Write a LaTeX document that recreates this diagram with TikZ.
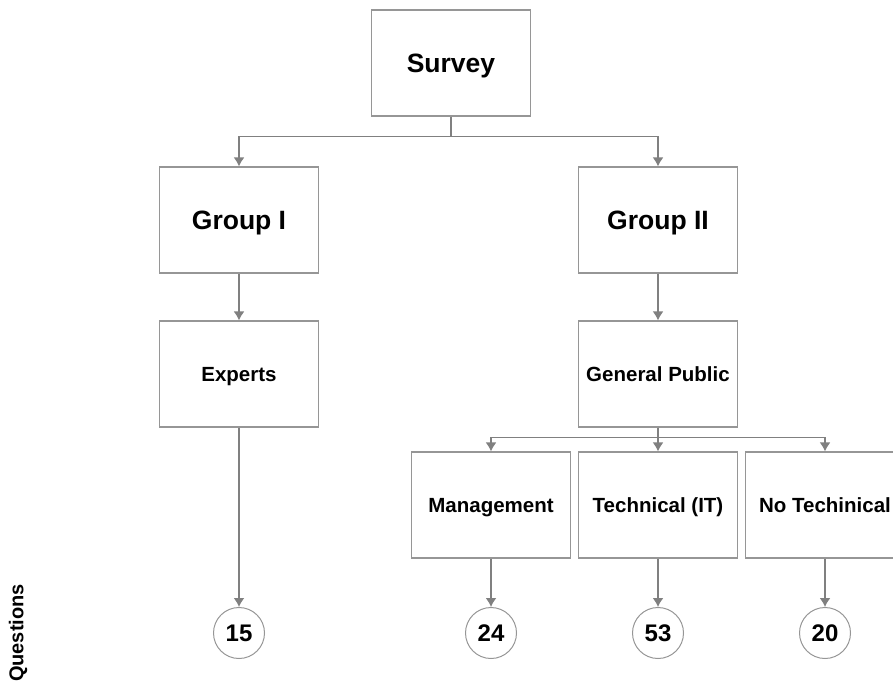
\documentclass[tikz,border=0pt]{standalone}
\usepackage{fontspec}
\setmainfont{Liberation Sans}
\usepackage{xcolor}
\usetikzlibrary{arrows.meta, positioning}

\definecolor{linegray}{RGB}{128,128,128}
\definecolor{boxgray}{RGB}{150,150,150}

\begin{document}
\begin{tikzpicture}[x=1pt, y=-1pt, >={Latex[length=9pt,width=11pt]},
    box/.style={draw=boxgray, line width=1.2pt, minimum width=159pt,
        minimum height=106pt, inner sep=0pt, text height=14.7pt, text depth=0pt,
        font=\bfseries\fontsize{20.5}{24}\selectfont},
    bigbox/.style={box, text height=19pt,
        font=\bfseries\fontsize{26.5}{30}\selectfont},
    numcircle/.style={circle, draw=boxgray, line width=1pt, minimum size=51pt,
        inner sep=0pt, font=\bfseries\fontsize{24}{28}\selectfont},
    link/.style={draw=linegray, line width=1.5pt, ->}]
    \useasboundingbox (0,0) rectangle (893,682);

    % Top levels
    \node[bigbox] (survey) at (451,63) {Survey};
    \node[bigbox] (group1) at (239,220) {Group I};
    \node[bigbox] (group2) at (658,220) {Group II};
    \node[box] (experts) at (239,374) {Experts};
    \node[box] (public) at (658,374) {General Public};

    % Sub groups of the public
    \node[box] (manage) at (491,505) {Management};
    \node[box] (tech) at (658,505) {Technical (IT)};
    \node[box] (notech) at (825,505) {No Techinical};

    % Number of questions
    \node[numcircle] (q15) at (239,633) {15};
    \node[numcircle] (q24) at (491,633) {24};
    \node[numcircle] (q53) at (658,633) {53};
    \node[numcircle] (q20) at (825,633) {20};
    \node[rotate=90, font=\bfseries\fontsize{20}{24}\selectfont] (qlabel) at (18,633) {Questions};

    % Connectors
    \draw[link] (survey.south) -- ++(0,20) -| (group1.north);
    \draw[link] (survey.south) -- ++(0,20) -| (group2.north);
    \draw[link] (group1) -- (experts);
    \draw[link] (group2) -- (public);
    \draw[link] (public.south) -- ++(0,10) -| (manage.north);
    \draw[link] (public.south) -- ++(0,10) -| (tech.north);
    \draw[link] (public.south) -- ++(0,10) -| (notech.north);
    \draw[link] (experts) -- (q15);
    \draw[link] (manage) -- (q24);
    \draw[link] (tech) -- (q53);
    \draw[link] (notech) -- (q20);
\end{tikzpicture}
\end{document}
